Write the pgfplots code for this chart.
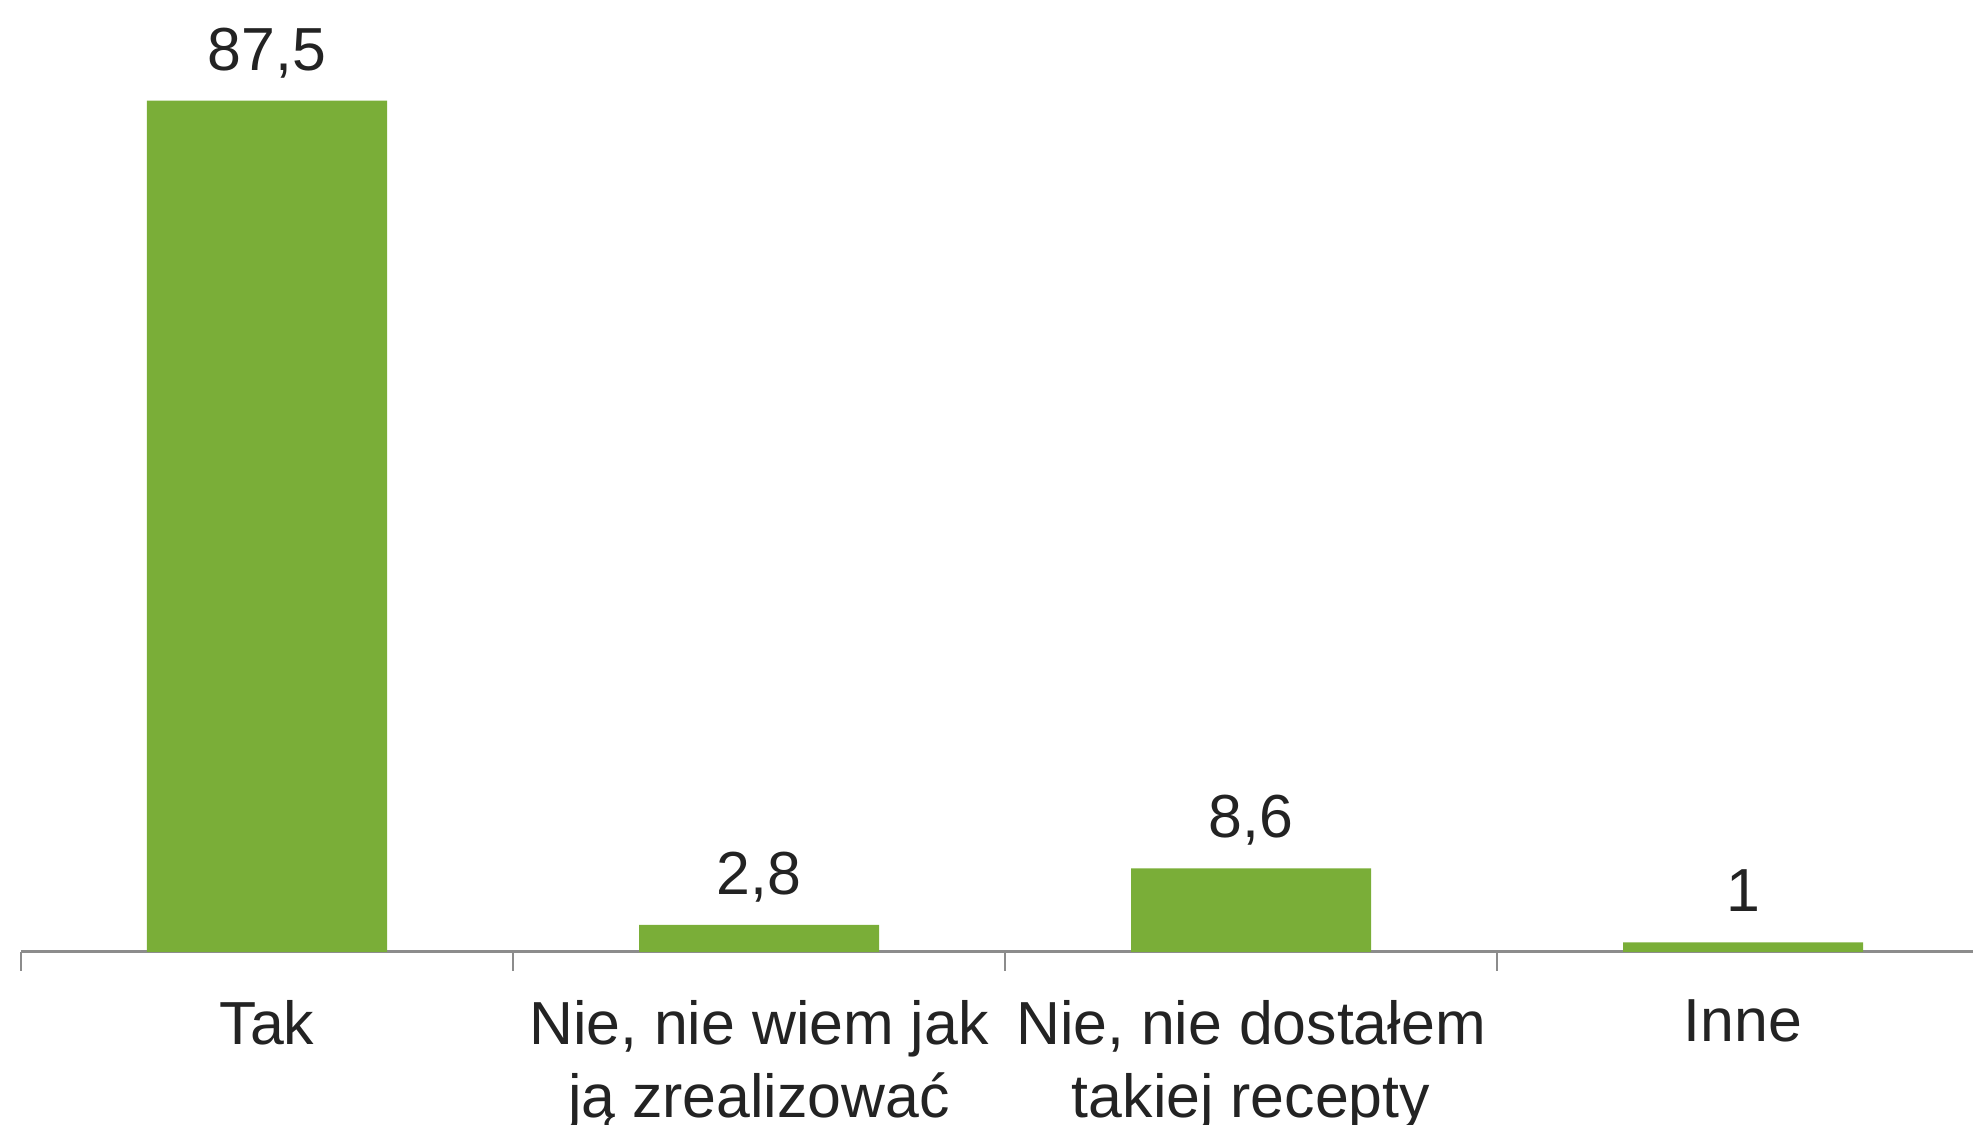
\documentclass[border=0pt]{standalone}
\usepackage{pgfplots}
\pgfplotsset{compat=1.18}
\usepackage{fontspec}
\setmainfont{Liberation Sans}
\definecolor{bargreen}{RGB}{122,174,56}
\definecolor{axisgray}{RGB}{140,140,140}
\definecolor{txt}{RGB}{35,35,35}
\begin{document}
\begin{tikzpicture}
\path[use as bounding box] (-5.25pt,-43.25pt) rectangle (488pt,238pt);
\clip (-5.25pt,-43.25pt) rectangle (488pt,238pt);
\begin{axis}[
  at={(0,0)}, anchor=south west,
  scale only axis, width=492pt, height=243.25pt,
  xmin=-0.5, xmax=3.5, ymin=0, ymax=100,
  axis x line*=bottom, axis y line=none,
  x axis line style={-, draw=axisgray, line width=0.75pt},
  xtick={0,1,2,3},
  xticklabels={Tak, {Nie, nie wiem jak\\ją zrealizować}, {Nie, nie dostałem\\takiej recepty}, Inne},
  major tick length=0pt,
  extra x ticks={-0.5,0.5,1.5,2.5,3.5},
  extra x tick labels={},
  extra x tick style={tick align=outside, major tick length=4.75pt},
  tick style={axisgray, line width=0.5pt},
  xticklabel style={align=center, font=\fontsize{15.2pt}{18.24pt}\selectfont, text=txt, yshift=-8.5pt},
  ybar, bar width=60pt,
  nodes near coords,
  point meta=explicit symbolic,
  nodes near coords style={anchor=south, inner sep=0pt, yshift=7.4pt, text depth=0pt, font=\fontsize{15.2pt}{18.24pt}\selectfont, text=txt},
]
\addplot[fill=bargreen, draw=none] table[meta=lab] {
x y lab
0 87.5 87,5
1 2.8 2,8
2 8.6 8,6
3 1 1
};
\end{axis}
\end{tikzpicture}
\end{document}
